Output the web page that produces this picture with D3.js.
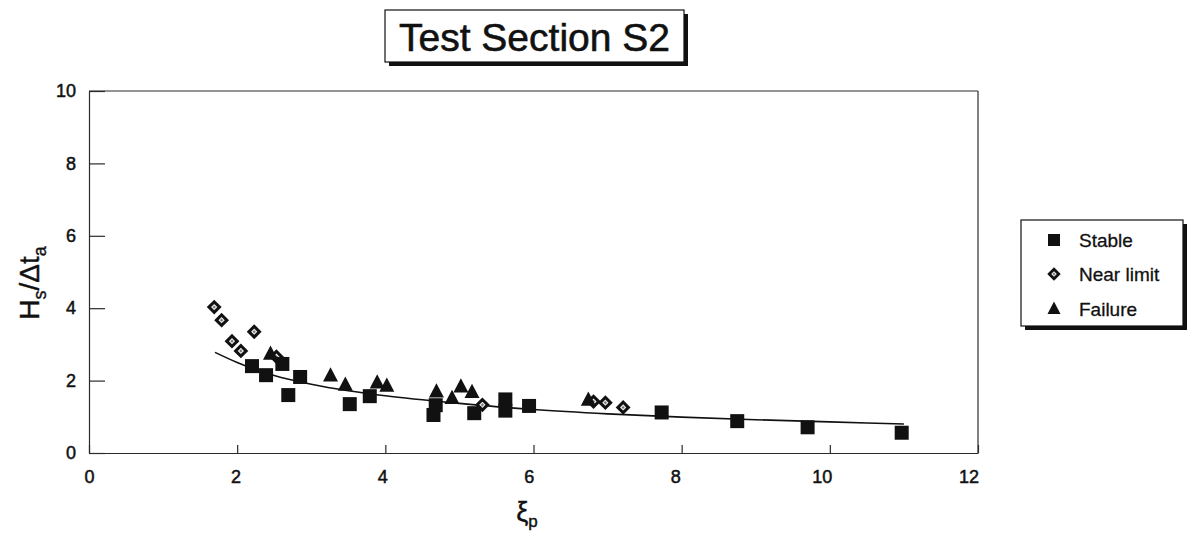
<!DOCTYPE html>
<html>
<head>
<meta charset="utf-8">
<script src="https://cdn.jsdelivr.net/npm/d3@7"></script>
<style>
  html, body { margin: 0; padding: 0; background: #fff; }
  svg { display: block; font-family: "Liberation Sans", Arial, Helvetica, sans-serif; }
</style>
</head>
<body>
<svg id="chart" width="1189" height="536"></svg>
<script>
// Test Section S2: stability number vs. surf similarity parameter
const stableX = [2.20, 2.39, 2.61, 2.85, 2.69, 3.52, 3.79, 4.65, 4.68, 5.20, 5.62, 5.62, 5.94, 7.73, 8.75, 9.70, 10.97];
const stableY = [2.40, 2.15, 2.46, 2.10, 1.60, 1.35, 1.57, 1.05, 1.32, 1.10, 1.48, 1.17, 1.30, 1.12, 0.88, 0.71, 0.56];

const nearX = [1.69, 1.79, 1.93, 2.05, 2.23, 2.53, 5.31, 6.81, 6.97, 7.21];
const nearY = [4.03, 3.67, 3.09, 2.82, 3.35, 2.66, 1.33, 1.42, 1.39, 1.26];

const failX = [2.45, 3.26, 3.46, 3.89, 4.02, 4.69, 4.90, 5.02, 5.17, 6.74];
const failY = [2.73, 2.13, 1.88, 1.94, 1.85, 1.69, 1.51, 1.83, 1.68, 1.46];

// fitted trend curve through the data
const fitX = [1.70, 2.00, 2.50, 3.00, 3.50, 4.00, 5.00, 6.00, 7.00, 8.00, 9.00, 10.00, 11.00];
const fitY = [2.78, 2.50, 2.14, 1.90, 1.72, 1.58, 1.37, 1.20, 1.08, 0.99, 0.92, 0.86, 0.80];

const xTicks = [0, 2, 4, 6, 8, 10, 12];
const yTicks = [0, 2, 4, 6, 8, 10];
const legendLabels = ["Stable", "Near limit", "Failure"];
const titleText = "Test Section S2";

const svg = d3.select("#chart");
const plot = { left: 89, right: 978, top: 91, bottom: 453 };

const x = d3.scaleLinear().domain([0, 12]).range([plot.left, plot.right]);
const y = d3.scaleLinear().domain([0, 10]).range([plot.bottom, plot.top]);

const ink = "#111";
const frame = "#2a2a2a";

// title box with drop shadow
const tb = { x: 385, y: 10, w: 299, h: 52 };
svg.append("rect").attr("x", tb.x + 4).attr("y", tb.y + 4).attr("width", tb.w).attr("height", tb.h).attr("fill", ink);
svg.append("rect").attr("x", tb.x).attr("y", tb.y).attr("width", tb.w).attr("height", tb.h)
  .attr("fill", "#fff").attr("stroke", ink).attr("stroke-width", 1.2);
svg.append("text").attr("x", tb.x + tb.w / 2).attr("y", tb.y + 41).attr("text-anchor", "middle")
  .attr("font-size", 39).attr("fill", ink).attr("stroke", ink).attr("stroke-width", 0.6).text(titleText);

// axes
const xAxis = d3.axisBottom(x).tickValues(xTicks).tickSizeInner(-8).tickSizeOuter(0).tickPadding(17);
const yAxis = d3.axisLeft(y).tickValues(yTicks).tickSizeInner(-16).tickSizeOuter(0).tickPadding(13);

const gx = svg.append("g").attr("transform", `translate(0,${plot.bottom})`).call(xAxis);
const gy = svg.append("g").attr("transform", `translate(${plot.left},0)`).call(yAxis);
[gx, gy].forEach(g => {
  g.select(".domain").attr("stroke", frame).attr("stroke-width", 1.2);
  g.selectAll(".tick line").attr("stroke", frame).attr("stroke-width", 1.2);
  g.selectAll(".tick text").attr("font-size", 18).attr("fill", ink)
    .attr("stroke", ink).attr("stroke-width", 0.5)
    .attr("font-family", "'Liberation Sans', Arial, sans-serif");
});
// the printed x labels sit slightly left of their ticks toward the right end
gx.selectAll(".tick text").attr("dx", d => -d * 0.8);

// top and right frame lines
svg.append("line").attr("x1", plot.left).attr("x2", plot.right).attr("y1", plot.top).attr("y2", plot.top)
  .attr("stroke", frame).attr("stroke-width", 1.2);
svg.append("line").attr("x1", plot.right).attr("x2", plot.right).attr("y1", plot.top).attr("y2", plot.bottom)
  .attr("stroke", frame).attr("stroke-width", 1.2);

// axis titles
const yl = svg.append("text").attr("transform", "translate(39,283) rotate(-90)")
  .attr("text-anchor", "middle").attr("font-size", 28).attr("fill", ink)
  .attr("stroke", ink).attr("stroke-width", 0.4);
yl.append("tspan").text("H");
yl.append("tspan").attr("font-size", 18).attr("dy", 7).text("s");
yl.append("tspan").attr("dy", -7).text("/Δt");
yl.append("tspan").attr("font-size", 18).attr("dy", 7).text("a");

const xl = svg.append("text").attr("x", 527).attr("y", 521)
  .attr("text-anchor", "middle").attr("font-size", 27).attr("fill", ink)
  .attr("stroke", ink).attr("stroke-width", 0.4);
xl.append("tspan").text("ξ");
xl.append("tspan").attr("font-size", 17).attr("dy", 6).text("p");

// fitted curve
const fitData = fitX.map((v, i) => [v, fitY[i]]);
svg.append("path").datum(fitData)
  .attr("d", d3.line().x(d => x(d[0])).y(d => y(d[1])).curve(d3.curveMonotoneX))
  .attr("fill", "none").attr("stroke", ink).attr("stroke-width", 1.6);

// marker drawers
function diamond(g, cx, cy, s) {
  const o = g.append("g").attr("transform", `translate(${cx},${cy}) rotate(45)`);
  o.append("rect").attr("x", -s / 2).attr("y", -s / 2).attr("width", s).attr("height", s).attr("fill", ink);
  const inner = s * 0.42;
  o.append("rect").attr("x", -inner / 2).attr("y", -inner / 2).attr("width", inner).attr("height", inner).attr("fill", "#eee");
  o.append("rect").attr("x", -inner / 4).attr("y", -inner / 4).attr("width", inner / 2).attr("height", inner / 2).attr("fill", "#777");
}
function triangle(g, cx, cy, w) {
  const h = w * 0.95;
  g.append("path")
    .attr("d", `M${cx},${cy - h * 0.6} L${cx + w / 2},${cy + h * 0.4} L${cx - w / 2},${cy + h * 0.4} Z`)
    .attr("fill", ink);
}
function square(g, cx, cy, s) {
  g.append("rect").attr("x", cx - s / 2).attr("y", cy - s / 2).attr("width", s).attr("height", s).attr("fill", ink);
}

const marks = svg.append("g");
nearX.forEach((v, i) => diamond(marks, x(v), y(nearY[i]), 10.5));
failX.forEach((v, i) => triangle(marks, x(v), y(failY[i]), 15));
stableX.forEach((v, i) => square(marks, x(v), y(stableY[i]), 14));

// legend
const lb = { x: 1021, y: 220, w: 162, h: 106 };
svg.append("rect").attr("x", lb.x + 4).attr("y", lb.y + 4).attr("width", lb.w).attr("height", lb.h).attr("fill", ink);
svg.append("rect").attr("x", lb.x).attr("y", lb.y).attr("width", lb.w).attr("height", lb.h)
  .attr("fill", "#fff").attr("stroke", ink).attr("stroke-width", 1.2);
const legRows = [240, 274, 309];
const lg = svg.append("g");
square(lg, 1054, legRows[0], 12);
diamond(lg, 1054, legRows[1], 9.5);
triangle(lg, 1054, legRows[2], 13);
legendLabels.forEach((t, i) => {
  lg.append("text").attr("x", 1079).attr("y", legRows[i]).attr("dy", "0.36em")
    .attr("font-size", 19).attr("fill", ink).attr("stroke", ink).attr("stroke-width", 0.3).text(t);
});
</script>
</body>
</html>
